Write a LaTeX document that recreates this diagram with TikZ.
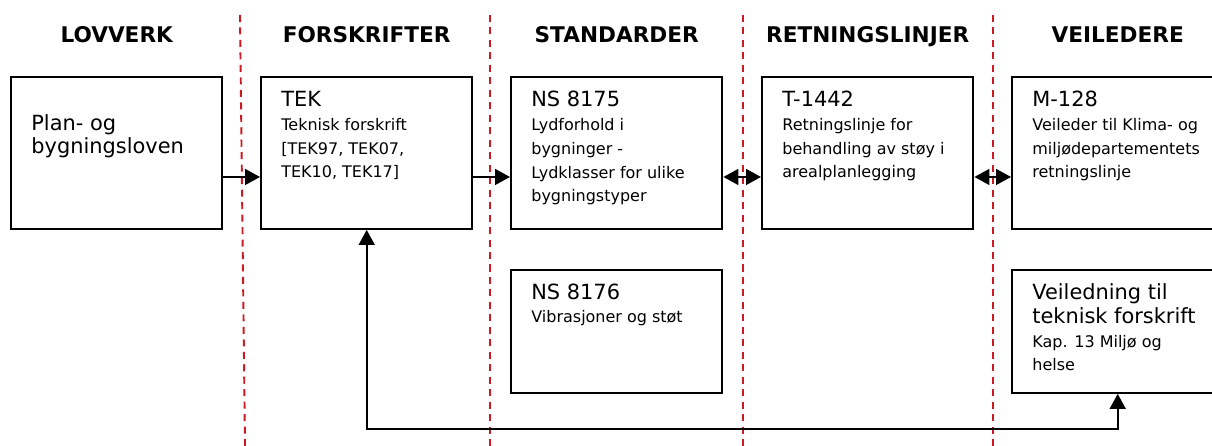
\documentclass[tikz,border=0pt]{standalone}
\usepackage{fontspec}
\setmainfont{DejaVu Sans}
\usetikzlibrary{arrows.meta, calc, positioning}
\definecolor{skillerod}{HTML}{CC1A24}
\newcommand{\tittel}{\fontsize{11.9}{13.6}\selectfont}

\tikzset{
  boks/.style={draw, line width=1.1pt, anchor=north west, inner sep=0pt,
    minimum width=4.23cm, minimum height=3.04cm},
  % base = grunnlinjen til siste linje
  tekst/.style={anchor=base west, align=left, inner sep=0pt},
  overskrift/.style={anchor=base, font=\fontsize{12.3}{14}\selectfont\bfseries},
  skille/.style={skillerod, line width=1.1pt, dash pattern=on 4pt off 3.1pt},
  spiss/.tip={Triangle[length=8.5pt, width=9pt]},
  pil/.style={line width=1.1pt, -spiss},
  dobbelpil/.style={line width=1.1pt, spiss-spiss}
}

\begin{document}
\begin{tikzpicture}[every node/.style={font=\fontsize{9.1}{13.6}\selectfont}]

  % === SKALA : 1 px = 0.02 cm ===
  \pgfmathsetmacro{\s}{0.02}

  % Kolonner (venstre kant av boksene)
  \pgfmathsetmacro{\xA}{10*\s}     % lovverk
  \pgfmathsetmacro{\xB}{260*\s}    % forskrifter
  \pgfmathsetmacro{\xC}{510*\s}    % standarder
  \pgfmathsetmacro{\xD}{761*\s}    % retningslinjer
  \pgfmathsetmacro{\xE}{1011*\s}   % veiledere
  \pgfmathsetmacro{\yO}{-76*\s}    % øvre rad
  \pgfmathsetmacro{\yN}{-269*\s}   % nedre rad
  \pgfmathsetmacro{\dl}{24*\s}     % linjeavstand

  \useasboundingbox (0,0) rectangle ({1212*\s},{-446*\s});
  \clip (0,0) rectangle ({1212*\s},{-446*\s});

  % === SKILLELINJER ===
  \draw[skille] ({240*\s},{-15*\s}) -- ({245*\s},{-446*\s});
  \foreach \x in {490, 743, 993}
    \draw[skille] ({\x*\s},{-15*\s}) -- ({\x*\s},{-446*\s});

  % === BOKSER ===
  \node[boks] (lov) at (\xA,\yO) {};
  \node[boks] (tek) at (\xB,\yO) {};
  \node[boks] (ns8175) at (\xC,\yO) {};
  \node[boks] (t1442) at (\xD,\yO) {};
  \node[boks] (m128) at (\xE,\yO) {};
  \node[boks, minimum height=2.46cm] (ns8176) at (\xC,\yN) {};
  \node[boks, minimum height=2.46cm] (veil) at (\xE,\yN) {};

  % === OVERSKRIFTER ===
  \node[overskrift] (hLov) at ([yshift=0.68cm]lov.north) {LOVVERK};
  \node[overskrift] (hTek) at ([yshift=0.68cm]tek.north) {FORSKRIFTER};
  \node[overskrift] (hNs) at ([yshift=0.68cm]ns8175.north) {STANDARDER};
  \node[overskrift] (hT) at ([yshift=0.68cm]t1442.north) {RETNINGSLINJER};
  \node[overskrift] (hM) at ([yshift=0.68cm]m128.north) {VEILEDERE};

  % === TEKST (første grunnlinje 30 px under toppen) ===
  \node[tekst] (lovT) at ([shift={(0.42,{-1.08-\dl})}]lov.north west)
    {{\tittel Plan- og}\\{\tittel bygningsloven}};
  \node[tekst] (tekT) at ([shift={(0.42,{-0.6-3*\dl})}]tek.north west)
    {{\tittel TEK}\\Teknisk forskrift\\{[}TEK97, TEK07,\\TEK10, TEK17]};
  \node[tekst] (ns8175T) at ([shift={(0.42,{-0.6-4*\dl})}]ns8175.north west)
    {{\tittel NS 8175}\\Lydforhold i\\bygninger -\\Lydklasser for ulike\\bygningstyper};
  \node[tekst] (t1442T) at ([shift={(0.42,{-0.6-3*\dl})}]t1442.north west)
    {{\tittel T-1442}\\Retningslinje for\\behandling av støy i\\arealplanlegging};
  \node[tekst] (m128T) at ([shift={(0.42,{-0.6-3*\dl})}]m128.north west)
    {{\tittel M-128}\\Veileder til Klima- og\\miljødepartementets\\retningslinje};
  \node[tekst] (ns8176T) at ([shift={(0.42,{-0.6-\dl})}]ns8176.north west)
    {{\tittel NS 8176}\\Vibrasjoner og støt};
  \node[tekst] (veilT) at ([shift={(0.42,{-0.6-3*\dl})}]veil.north west)
    {{\tittel Veiledning til}\\{\tittel teknisk forskrift}\\Kap. 13 Miljø og\\helse};

  % === PILER ===
  \draw[pil] ([yshift=-2.02cm]lov.north east) -- ([yshift=-2.02cm]tek.north west);
  \draw[pil] ([yshift=-2.02cm]tek.north east) -- ([yshift=-2.02cm]ns8175.north west);
  \draw[dobbelpil] ([yshift=-2.02cm]ns8175.north east) -- ([yshift=-2.02cm]t1442.north west);
  \draw[dobbelpil] ([yshift=-2.02cm]t1442.north east) -- ([yshift=-2.02cm]m128.north west);

  % Tilbakekobling TEK <-> veiledning
  \coordinate (bunn) at (0,{-429*\s});
  \draw[dobbelpil] (tek.south) -- (tek.south |- bunn) -| (veil.south);

\end{tikzpicture}
\end{document}
